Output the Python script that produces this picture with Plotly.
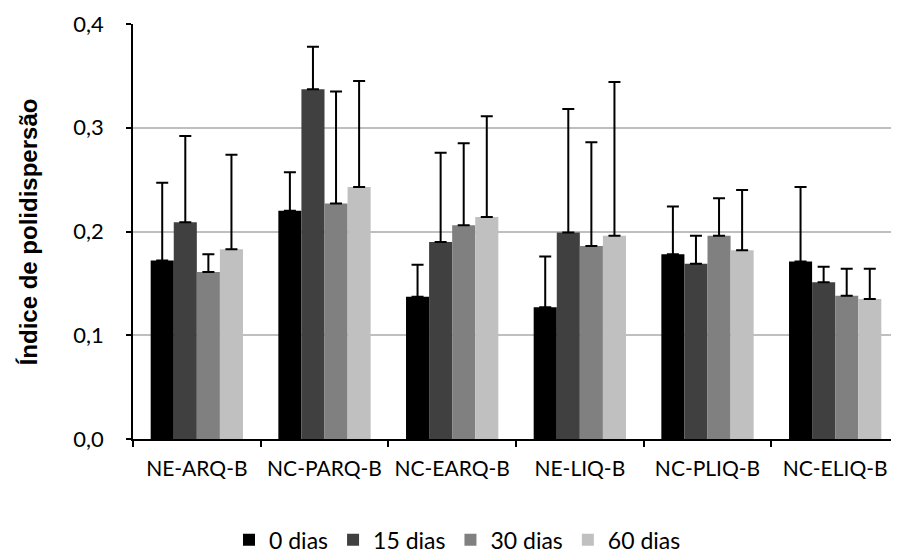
import plotly.graph_objects as go

categories = ["NE-ARQ-B", "NC-PARQ-B", "NC-EARQ-B", "NE-LIQ-B", "NC-PLIQ-B", "NC-ELIQ-B"]
series_names = ["0 dias", "15 dias", "30 dias", "60 dias"]
y_title = "Índice de polidispersão"

v0 = [0.172, 0.220, 0.137, 0.127, 0.178, 0.171]
v15 = [0.209, 0.337, 0.190, 0.199, 0.169, 0.151]
v30 = [0.161, 0.227, 0.206, 0.186, 0.196, 0.138]
v60 = [0.183, 0.243, 0.214, 0.196, 0.182, 0.135]

e0 = [0.075, 0.037, 0.031, 0.049, 0.046, 0.072]
e15 = [0.083, 0.041, 0.086, 0.119, 0.027, 0.015]
e30 = [0.017, 0.108, 0.079, 0.100, 0.036, 0.026]
e60 = [0.091, 0.102, 0.097, 0.148, 0.058, 0.029]

colors = ["#000000", "#404040", "#808080", "#c0c0c0"]

fig = go.Figure()
for name, vals, errs, col in zip(series_names, [v0, v15, v30, v60], [e0, e15, e30, e60], colors):
    fig.add_trace(go.Bar(
        x=categories, y=vals, name=name,
        marker=dict(color=col, line=dict(width=0)),
        error_y=dict(type="data", array=errs, arrayminus=[0] * len(errs), symmetric=False,
                     color="#000000", thickness=2, width=6),
    ))

font_family = "Lato, 'Open Sans', sans-serif"
fig.update_layout(
    width=899, height=554,
    barmode="group", bargap=0.277, bargroupgap=0,
    separators=",.",
    plot_bgcolor="white", paper_bgcolor="white",
    margin=dict(l=125, r=8, t=16, b=123),
    font=dict(family=font_family, size=22, color="#000000"),
    showlegend=True,
    legend=dict(orientation="h", x=0.5, xanchor="center", xref="container",
                y=0.04, yanchor="middle", yref="container",
                font=dict(size=23, family=font_family),
                itemwidth=30, traceorder="normal"),
    xaxis=dict(showline=True, linecolor="#000000", linewidth=1.5,
               ticks="outside", tickson="boundaries", ticklen=6, tickcolor="#000000", tickwidth=1.5,
               tickfont=dict(size=21, family=font_family), showgrid=False,
               tickangle=0, automargin=False, ticklabelstandoff=10),
    yaxis=dict(range=[0, 0.4], dtick=0.1, tickformat=".1f",
               showline=True, linecolor="#000000", linewidth=1.5,
               ticks="outside", ticklen=5, tickcolor="#000000", tickwidth=1.5,
               showgrid=True, gridcolor="#bfbfbf", gridwidth=1.5, zeroline=False,
               tickfont=dict(size=22, family=font_family), ticklabelstandoff=18,
               automargin=False),
    annotations=[dict(text="<b>" + y_title + "</b>", xref="paper", yref="paper",
                      x=-0.136, y=0.5, xanchor="center", yanchor="middle",
                      textangle=-90, showarrow=False,
                      font=dict(family="Arial, 'Liberation Sans', sans-serif", size=24, color="#000000"))],
)

fig.write_html("out.html")
